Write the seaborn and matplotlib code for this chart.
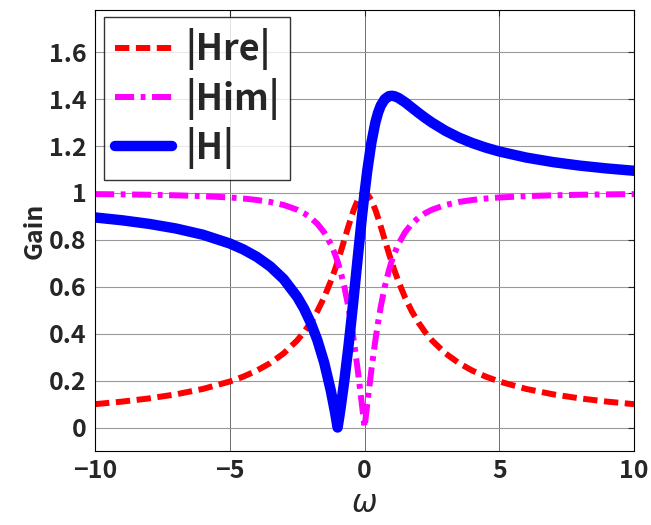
import numpy as np
import pandas as pd
import matplotlib
matplotlib.use("Agg")
import matplotlib.pyplot as plt
import seaborn as sns

omega = [-10, -9, -8, -7, -6, -5, -4.5, -4, -3.5, -3, -2.5, -2.25, -2, -1.75, -1.5, -1.25,
         -1.1, -1, -0.9, -0.75, -0.6, -0.5, -0.4, -0.25, -0.1, 0, 0.1, 0.25, 0.4, 0.5, 0.6,
         0.75, 0.9, 1, 1.1, 1.25, 1.5, 1.75, 2, 2.25, 2.5, 3, 3.5, 4, 4.5, 5, 6, 7, 8, 9, 10]
hre = [0.0995, 0.1104, 0.1240, 0.1414, 0.1644, 0.1961, 0.2169, 0.2425, 0.2747, 0.3162,
       0.3714, 0.4061, 0.4472, 0.4961, 0.5547, 0.6247, 0.6727, 0.7071, 0.7433, 0.8,
       0.8575, 0.8944, 0.9285, 0.9701, 0.995, 1.0, 0.995, 0.9701, 0.9285, 0.8944, 0.8575,
       0.8, 0.7433, 0.7071, 0.6727, 0.6247, 0.5547, 0.4961, 0.4472, 0.4061, 0.3714,
       0.3162, 0.2747, 0.2425, 0.2169, 0.1961, 0.1644, 0.1414, 0.1240, 0.1104, 0.0995]
him = [0.9950, 0.9939, 0.9923, 0.9899, 0.9864, 0.9806, 0.9762, 0.9701, 0.9615, 0.9487,
       0.9285, 0.9138, 0.8944, 0.8682, 0.8321, 0.7809, 0.7399, 0.7071, 0.6690, 0.6,
       0.5145, 0.4472, 0.3714, 0.2425, 0.0995, 0.0, 0.0995, 0.2425, 0.3714, 0.4472, 0.5145,
       0.6, 0.6690, 0.7071, 0.7399, 0.7809, 0.8321, 0.8682, 0.8944, 0.9138, 0.9285,
       0.9487, 0.9615, 0.9701, 0.9762, 0.9806, 0.9864, 0.9899, 0.9923, 0.9939, 0.9950]
habs = [0.8955, 0.8835, 0.8682, 0.8485, 0.8220, 0.7845, 0.7593, 0.7276, 0.6868, 0.6325,
        0.5571, 0.5077, 0.4472, 0.3721, 0.2774, 0.1562, 0.0673, 0.0, 0.0743, 0.2,
        0.3430, 0.4472, 0.5571, 0.7276, 0.8955, 1.0, 1.0945, 1.2127, 1.2999, 1.3416, 1.3720,
        1.4, 1.4124, 1.4142, 1.4127, 1.4056, 1.3868, 1.3641, 1.3416, 1.3199, 1.3,
        1.2649, 1.2362, 1.2127, 1.1931, 1.1767, 1.1508, 1.1314, 1.1163, 1.1043, 1.0945]
labels = ["|Hre|", "|Him|", "|H|"]
xticks = [-10, -5, 0, 5, 10]
yticks = [0, 0.2, 0.4, 0.6, 0.8, 1, 1.2, 1.4, 1.6]
ytick_labels = ["0", "0.2", "0.4", "0.6", "0.8", "1", "1.2", "1.4", "1.6"]

sns.set_style("white")
plt.rcParams['font.family'] = ['Noto Sans CJK JP', 'DejaVu Sans']

fig = plt.figure(figsize=(6.51, 5.25), dpi=100)
ax = fig.add_axes([0.146, 0.141, 0.828, 0.840])

df = pd.DataFrame({"omega": omega, "hre": hre, "him": him, "habs": habs})
sns.lineplot(data=df, x="omega", y="hre", ax=ax, color="#ff0000", lw=4.3,
             linestyle=(0, (2.4, 1.1)), label=labels[0], sort=False)
sns.lineplot(data=df, x="omega", y="him", ax=ax, color="#ff00ff", lw=4.3,
             linestyle=(0, (3.2, 1.1, 0.8, 1.1)), label=labels[1], sort=False)
sns.lineplot(data=df, x="omega", y="habs", ax=ax, color="#0000ff", lw=7.5,
             label=labels[2], sort=False)

ax.set_xlim(-10, 10)
ax.set_ylim(-0.1, 1.78)
ax.set_xticks(xticks)
ax.set_xticklabels(["\u221210", "\u22125", "0", "5", "10"])
ax.set_yticks(yticks)
ax.set_yticklabels(ytick_labels)
ax.grid(True, axis="y", color="#999999", lw=0.8)
ax.grid(True, axis="x", color="#555555", lw=0.6)
ax.tick_params(direction="in", length=4, width=0.8, top=True, right=True,
               labelsize=18, pad=6)
for lab in ax.get_xticklabels() + ax.get_yticklabels():
    lab.set_fontweight("bold")
for s in ax.spines.values():
    s.set_visible(True)
    s.set_color("black")
    s.set_linewidth(0.8)

ax.set_xlabel("\u03c9", fontsize=22, fontstyle="italic", fontweight="normal",
              family="DejaVu Sans", labelpad=4)
ax.set_ylabel("Gain", fontsize=18, fontweight="bold", labelpad=2)

leg = ax.legend(loc="upper left", bbox_to_anchor=(0.016, 0.983),
                prop={"weight": "bold", "size": 26}, handlelength=1.6,
                frameon=True, fancybox=False, edgecolor="black",
                borderpad=0.3, labelspacing=0.2, handletextpad=0.35, borderaxespad=0)
leg.get_frame().set_linewidth(1.0)

fig.savefig("out.png", dpi=100)
